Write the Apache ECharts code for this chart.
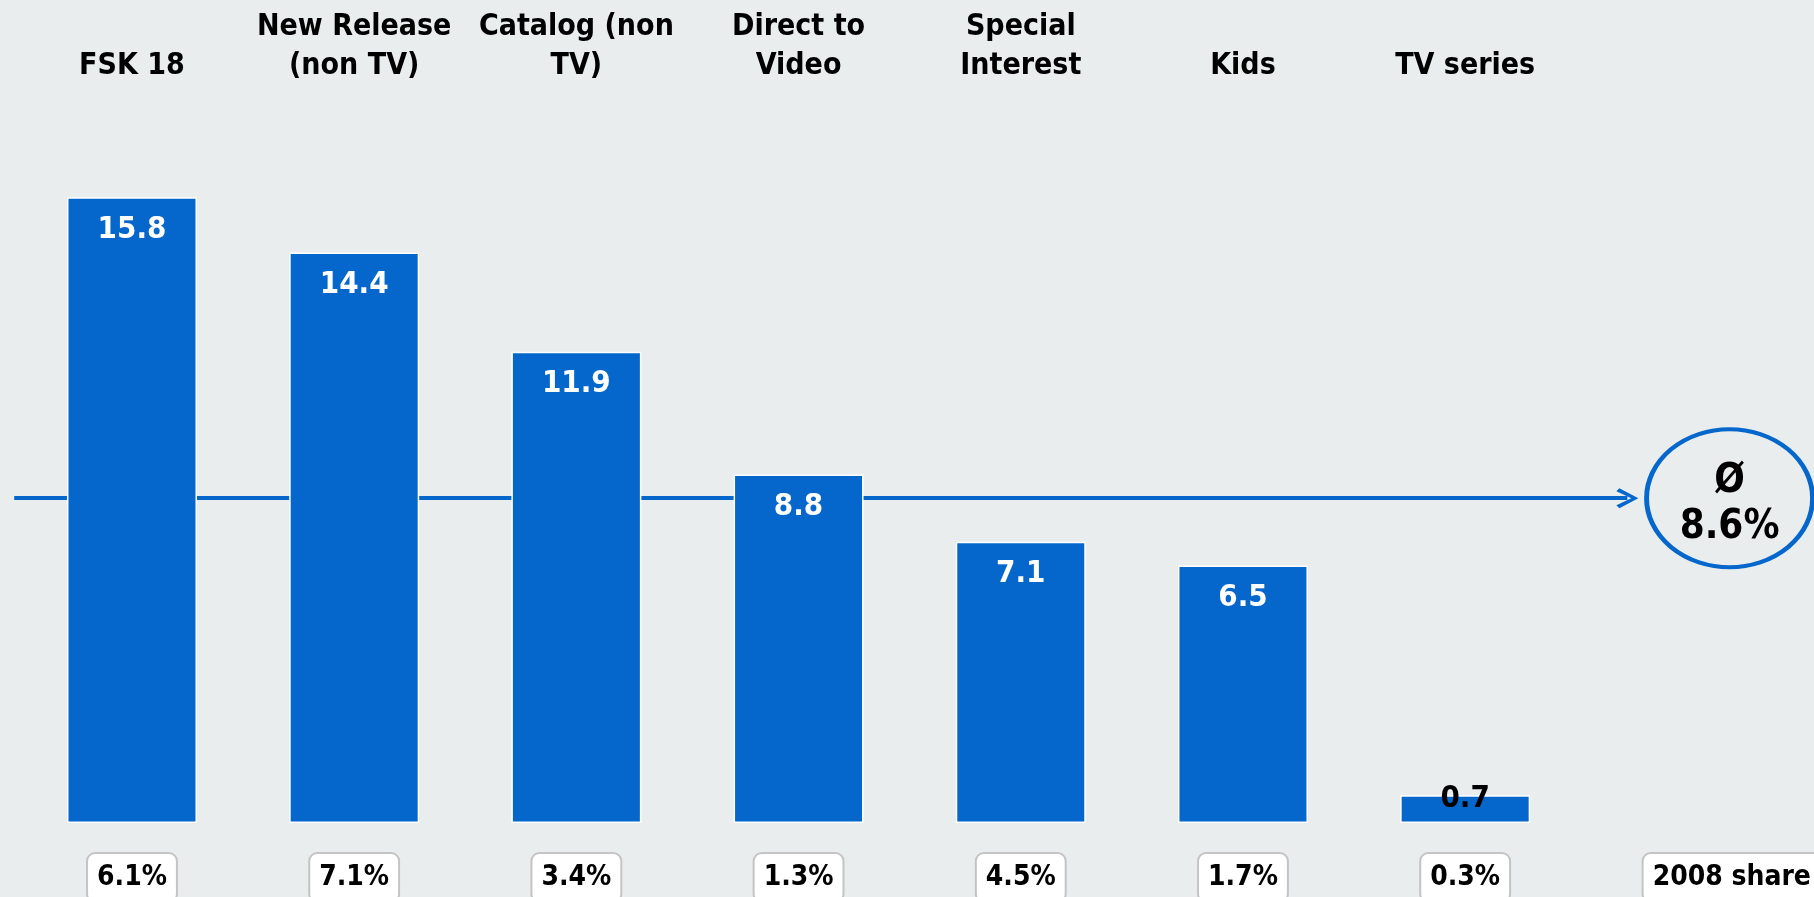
<!DOCTYPE html>
<html lang="en">
<head>
    <meta charset="UTF-8">
    <title>Segment growth vs 2008 share</title>
    <script src="https://cdn.jsdelivr.net/npm/echarts@6/dist/echarts.min.js"></script>
    <style>
        html, body { margin: 0; padding: 0; background: #E9EDEE; }
        #chart { width: 1814px; height: 897px; }
    </style>
</head>
<body>
    <div id="chart"></div>
    <script>
        // data
        const categories = ['FSK 18', 'New Release\n(non TV)', 'Catalog (non\nTV)', 'Direct to\nVideo', 'Special\nInterest', 'Kids', 'TV series'];
        const values = [15.8, 14.4, 11.9, 8.8, 7.1, 6.5, 0.7];
        const shares = ['6.1%', '7.1%', '3.4%', '1.3%', '4.5%', '1.7%', '0.3%'];
        const shareTitle = '2008 share';
        const shareTitlePos = 7.2;
        const avgText = 'Ø\n8.6%';
        const avgLevel = 8.2;
        const lineFrom = -0.53;
        const lineTo = 6.73;
        const avgPos = 7.19;

        const FONT = "'DejaVu Sans Condensed', 'DejaVu Sans', sans-serif";
        const BLUE = '#0566CC';
        const BG = '#E9EDEE';

        const chart = echarts.init(document.getElementById('chart'));

        const idx = categories.map((_, i) => i);
        const xRange = { min: -0.594, max: 7.57 };

        // label lookup by tick value (custom ticks)
        const pick = (list, v, extra) => {
            const i = Math.round(v);
            if (Math.abs(v - i) < 0.01 && i >= 0 && i < list.length) return list[i];
            return extra || '';
        };

        const barData = values.map((v, i) => {
            const item = { value: [i, v] };
            if (v < 2) {
                // too small for an inside label
                item.label = { position: 'top', distance: -19, color: '#000' };
            }
            return item;
        });

        const option = {
            backgroundColor: BG,
            animation: false,
            grid: { left: 0, right: 0, top: 110, bottom: 74, outerBoundsMode: 'none', containLabel: false },
            xAxis: [{
                type: 'value',
                position: 'bottom',
                min: xRange.min,
                max: xRange.max,
                axisLine: { show: false },
                axisTick: { show: false },
                splitLine: { show: false },
                axisLabel: {
                    customValues: idx.concat([shareTitlePos]),
                    formatter: v => pick(shares, v, shareTitle),
                    margin: 31,
                    fontFamily: FONT,
                    fontWeight: 'bold',
                    fontSize: 28,
                    color: '#000',
                    backgroundColor: '#fff',
                    borderColor: '#C4C4C4',
                    borderWidth: 2,
                    borderRadius: 7,
                    padding: [10, 9, 9, 9]
                }
            }, {
                type: 'value',
                position: 'top',
                min: xRange.min,
                max: xRange.max,
                axisLine: { show: false },
                axisTick: { show: false },
                splitLine: { show: false },
                axisLabel: {
                    customValues: idx,
                    formatter: v => pick(categories, v),
                    margin: 24,
                    fontFamily: FONT,
                    fontWeight: 'bold',
                    fontSize: 30,
                    lineHeight: 39,
                    color: '#000'
                }
            }],
            yAxis: {
                type: 'value',
                min: 0,
                max: 18,
                show: false
            },
            series: [{
                type: 'bar',
                xAxisIndex: 0,
                barWidth: 130,
                z: 3,
                itemStyle: { color: BLUE, borderColor: '#fff', borderWidth: 1.5 },
                label: {
                    show: true,
                    position: 'insideTop',
                    distance: 17,
                    formatter: p => p.value[1].toFixed(1),
                    fontFamily: FONT,
                    fontWeight: 'bold',
                    fontSize: 31,
                    color: '#fff'
                },
                data: barData,
                markLine: {
                    z: 1,
                    silent: true,
                    symbol: ['none', 'path://M10,0 L20,19 L17,22 L10,7 L3,22 L0,19 Z'],
                    symbolSize: [20, 22],
                    label: { show: false },
                    lineStyle: { color: BLUE, width: 4, type: 'solid' },
                    data: [[{ coord: [lineFrom, avgLevel] }, { coord: [lineTo, avgLevel] }]]
                },
                markPoint: {
                    silent: true,
                    symbol: 'path://M0,50 A50,50 0 1,1 100,50 A50,50 0 1,1 0,50 Z',
                    symbolSize: [166, 138],
                    itemStyle: { color: BG, borderColor: BLUE, borderWidth: 4.5 },
                    label: {
                        show: true,
                        position: 'inside',
                        offset: [0, 6],
                        formatter: avgText,
                        fontFamily: FONT,
                        fontWeight: 'bold',
                        fontSize: 40,
                        lineHeight: 46,
                        color: '#000'
                    },
                    data: [{ coord: [avgPos, avgLevel] }]
                }
            }]
        };

        chart.setOption(option);
    </script>
</body>
</html>
